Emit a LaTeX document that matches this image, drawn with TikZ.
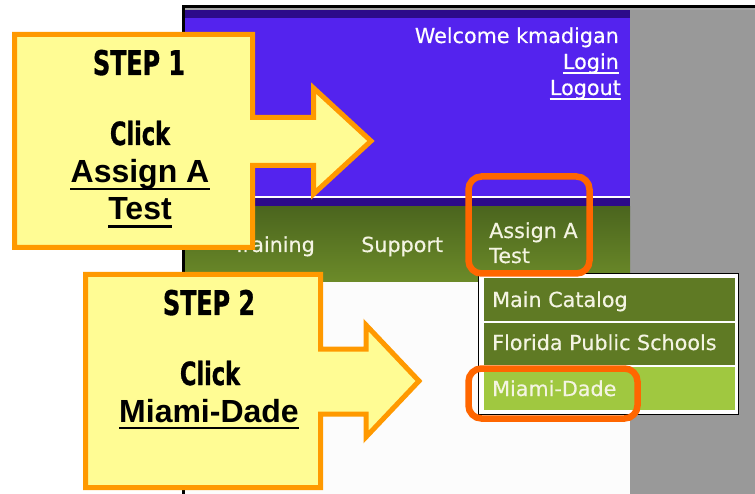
\documentclass[tikz,border=0pt]{standalone}
\usepackage{fontspec}
\usetikzlibrary{calc}
\newfontfamily\webfont{DejaVu Sans}[FakeBold=0.4]
\newfontfamily\stepfont{DejaVu Sans}[FakeStretch=0.7,FakeBold=1]
\newfontfamily\labfont{Liberation Sans}
\definecolor{purp}{HTML}{5423EE}
\definecolor{darkpurp}{HTML}{2C0A8A}
\definecolor{gtop}{HTML}{4B651E}
\definecolor{gbot}{HTML}{6C8B29}
\definecolor{menugreen}{HTML}{5F7A24}
\definecolor{menulight}{HTML}{A0C840}
\definecolor{menutext}{HTML}{F4F4E2}
\definecolor{sidegrey}{HTML}{999999}
\definecolor{pagewhite}{HTML}{FCFCFC}
\definecolor{hilite}{HTML}{FF6600}
\definecolor{steporange}{HTML}{FF9900}
\definecolor{stepyellow}{HTML}{FFFC94}
\begin{document}
\begin{tikzpicture}[x=1pt,y=-1pt,
  web/.style={font=\webfont\fontsize{20.7}{24}\selectfont, text=white, inner sep=0},
  menuitem/.style={font=\webfont\fontsize{20.7}{24}\selectfont, text=menutext, inner sep=0, anchor=base west},
  hibox/.style={draw=hilite, line width=6.5, rounded corners=13},
  steparrow/.style={draw=steporange, fill=stepyellow, line width=5, line join=miter},
  steptitle/.style={font=\stepfont\bfseries\fontsize{34}{40}\selectfont, inner sep=0, anchor=base},
  stepclick/.style={font=\stepfont\bfseries\fontsize{32}{38}\selectfont, inner sep=0, anchor=base},
  steplabel/.style={font=\labfont\bfseries\fontsize{32}{38}\selectfont, inner sep=0, anchor=base},
  uline/.style={line width=2.2}
]
\useasboundingbox (0,0) rectangle (755,494);
\fill[white] (0,0) rectangle (755,494);

% screenshot background
\fill[sidegrey] (630,8) rectangle (755,494);
\fill[purp] (184,8) rectangle (630,197);
\fill[darkpurp] (184,9) rectangle (630,18);
\fill[gray!70] (184,8) rectangle (755,10.5);
\fill[black] (182,5) rectangle (755,8);
\draw[white, line width=1] (184,197) -- (630,197);
\fill[darkpurp] (184,197.6) rectangle (630,207);
\shade[top color=gtop, bottom color=gbot] (184,207) rectangle (630,282);
\fill[pagewhite] (184,282) rectangle (630,494);
\fill[black] (182,5) rectangle (184.5,494);

% header texts
\node[web, anchor=base east] (welcome) at (619,43) {Welcome kmadigan};
\node[web, anchor=base east] (login) at (619,69) {Login};
\node[web, anchor=base east] (logout) at (621,95) {Logout};
\draw[white, line width=1.4] ($(login.base west)+(0,4)$) -- ($(login.base east)+(0,4)$);
\draw[white, line width=1.4] ($(logout.base west)+(0,4)$) -- ($(logout.base east)+(0,4)$);

% nav texts
\node[menuitem, anchor=base east] (training) at (315,252) {Training};
\node[menuitem] (support) at (361,252) {Support};
\node[menuitem] (assign1) at (489,238) {Assign A};
\node[menuitem] (assign2) at (489,263) {Test};

% dropdown
\draw[black, line width=1.5, fill=white] (478.5,273.5) rectangle (738.5,414.5);
\fill[menugreen] (484,278) rectangle (735,321);
\fill[menugreen] (484,323) rectangle (735,365);
\fill[menulight] (484,367) rectangle (735,410);
\node[menuitem] (main) at (492,307) {Main Catalog};
\node[menuitem] (florida) at (492,350) {Florida Public Schools};
\node[menuitem] (miami) at (492,396) {Miami-Dade};

% highlight boxes
\draw[hibox] (468.5,176.5) rectangle (589.5,273.5);
\draw[hibox] (468.5,368.5) rectangle (637.5,418.5);

% step 1 arrow
\draw[steparrow] (14.5,34.5) -- (252.5,34.5) -- (252.5,117.5) -- (313.5,117.5) -- (313.5,88)
  -- (371,141) -- (313.5,194) -- (313.5,165.5) -- (252.5,165.5) -- (252.5,247.5) -- (14.5,247.5) -- cycle;
\node[steptitle] (s1title) at (139,75) {STEP 1};
\node[stepclick] (s1click) at (140,145) {Click};
\node[steplabel] (s1a) at (140,183) {Assign A};
\node[steplabel] (s1b) at (140,220) {Test};
\draw[uline] ($(s1a.base west)+(0,6)$) -- ($(s1a.base east)+(0,6)$);
\draw[uline] ($(s1b.base west)+(0,6.5)$) -- ($(s1b.base east)+(0,6.5)$);

% step 2 arrow
\draw[steparrow] (85.5,274.5) -- (320.5,274.5) -- (320.5,349) -- (366,349) -- (366,325)
  -- (419,381) -- (366,437) -- (366,414) -- (320.5,414) -- (320.5,487.5) -- (85.5,487.5) -- cycle;
\node[steptitle] (s2title) at (209,315) {STEP 2};
\node[stepclick] (s2click) at (210,385) {Click};
\node[steplabel] (s2a) at (209,422) {Miami-Dade};
\draw[uline] ($(s2a.base west)+(0,6)$) -- ($(s2a.base east)+(0,6)$);
\end{tikzpicture}
\end{document}
